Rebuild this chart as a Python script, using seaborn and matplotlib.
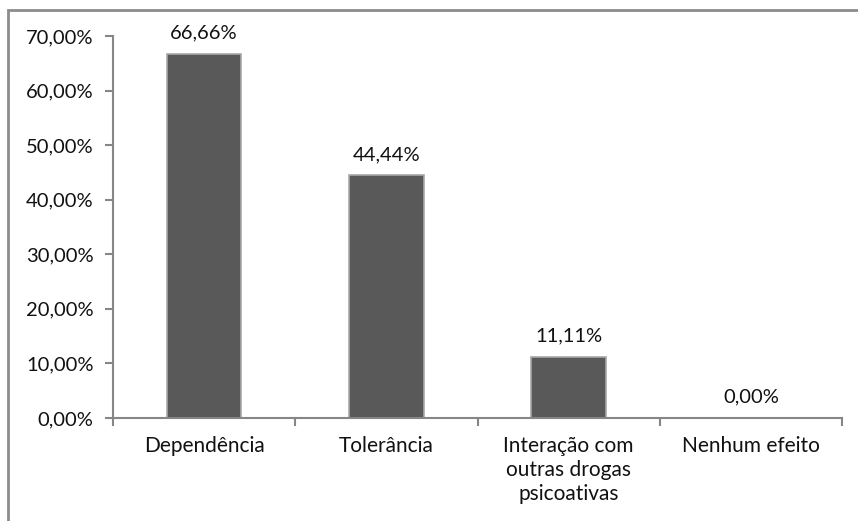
import matplotlib
matplotlib.use("Agg")
import matplotlib.pyplot as plt
import seaborn as sns
import pandas as pd
from matplotlib.ticker import FuncFormatter, FixedLocator
from matplotlib.patches import Rectangle

categories = ["Dependência", "Tolerância", "Interação com\noutras drogas\npsicoativas", "Nenhum efeito"]
values = [66.66, 44.44, 11.11, 0.00]
yticks = [0, 10, 20, 30, 40, 50, 60, 70]

df = pd.DataFrame({"cat": categories, "val": values})

sns.set_theme(style="white")
plt.rcParams["font.family"] = ["Lato", "DejaVu Sans"]

fig = plt.figure(figsize=(8.58, 5.21), dpi=100)
ax = fig.add_axes([113/858, 1-418/521, (842-113)/858, (418-36)/521])

sns.barplot(data=df, x="cat", y="val", ax=ax, color="#595959", width=0.41,
            saturation=1, edgecolor="#a8a8a8", linewidth=1.2)

ax.set_ylim(0, 70)
ax.set_xlim(-0.5, 3.5)
ax.yaxis.set_major_locator(FixedLocator(yticks))
ax.yaxis.set_major_formatter(FuncFormatter(lambda v, p: f"{v:.2f}%".replace(".", ",")))
ax.set_xlabel("")
ax.set_ylabel("")

for s in ["top", "right"]:
    ax.spines[s].set_visible(False)
for s in ["left", "bottom"]:
    ax.spines[s].set_color("#868686")
    ax.spines[s].set_linewidth(1.5)

ax.tick_params(axis="y", which="major", direction="out", length=6, width=1.5,
               color="#868686", labelsize=14.5, pad=8, left=True, labelcolor="#111111")
ax.tick_params(axis="x", which="major", length=0, labelsize=15, pad=13, labelcolor="#111111")
ax.set_xticks([-0.5, 0.5, 1.5, 2.5, 3.5], minor=True)
ax.tick_params(axis="x", which="minor", direction="out", length=6, width=1.5,
               color="#868686", bottom=True)
for lbl in ax.get_xticklabels():
    lbl.set_linespacing(1.25)

for i, v in enumerate(values):
    ax.annotate(f"{v:.2f}%".replace(".", ","), (i, v), xytext=(0, 9),
                textcoords="offset points", ha="center", va="bottom", fontsize=14.5,
                color="#111111")

fig.patches.append(Rectangle((8/858, -0.1), 1.2, 1 - 9.5/521 + 0.1, transform=fig.transFigure,
                             fill=False, edgecolor="#8c8c8c", linewidth=2, zorder=10))

fig.savefig("out.png", dpi=100)
